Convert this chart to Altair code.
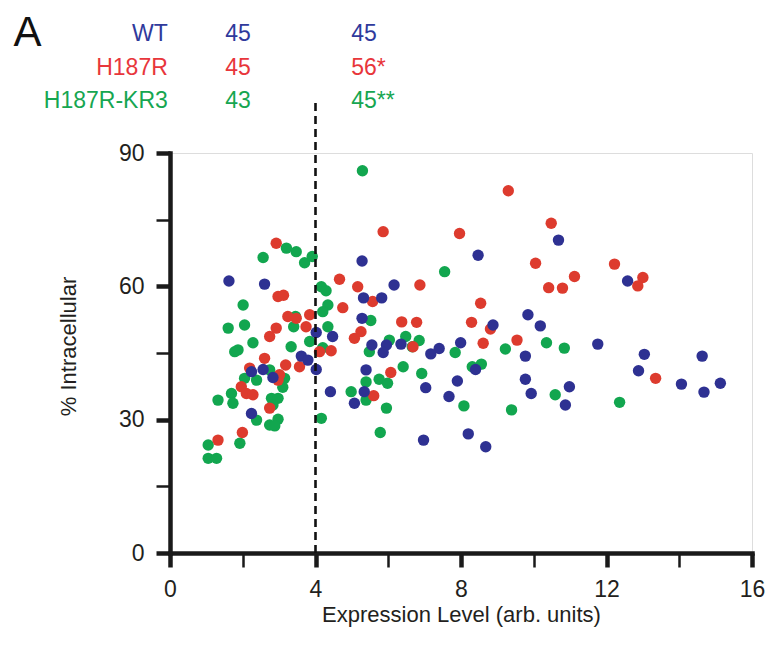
import altair as alt
import pandas as pd

# ---------------- data ----------------
groups = ["WT", "H187R", "H187R-KR3"]
left_counts = ["45", "45", "43"]
right_counts = ["45", "56*", "45**"]

wt_x = [5.28, 1.62, 2.60, 5.32, 5.28, 4.02, 4.47, 3.61, 3.79, 4.02, 2.24, 2.56, 2.83, 2.24,
        4.41, 5.34, 5.07, 5.39, 6.16, 5.82, 8.88, 9.84, 5.55, 5.95, 6.35, 7.40, 7.99, 5.86,
        7.17, 9.77, 7.90, 8.40, 9.77, 7.03, 7.67, 9.93, 6.97, 8.20, 8.68, 10.68, 12.58, 10.18,
        11.76, 13.04, 12.88, 14.63, 14.06, 14.68, 15.13, 10.98, 10.87, 8.47]
wt_y = [65.7, 61.2, 60.5, 57.4, 52.8, 49.6, 48.7, 44.3, 43.4, 41.3, 40.8, 41.3, 39.5, 31.4,
        36.3, 36.3, 33.7, 41.2, 60.3, 57.4, 51.3, 53.6, 46.8, 46.8, 47.0, 46.0, 47.3, 45.1,
        44.8, 44.3, 38.7, 41.3, 39.1, 37.2, 35.2, 35.9, 25.4, 26.8, 23.9, 70.4, 61.2, 51.1,
        47.0, 44.7, 41.0, 44.3, 38.0, 36.2, 38.2, 37.4, 33.3, 67.0]

h187r_x = [2.92, 4.66, 5.16, 2.97, 3.12, 4.75, 3.24, 3.47, 3.84, 2.92, 2.74, 3.74, 5.25, 5.07,
           4.11, 4.43, 3.56, 2.60, 3.18, 2.19, 3.01, 2.97, 1.96, 2.10, 2.28, 2.74, 1.99, 1.32,
           9.30, 5.86, 7.96, 6.87, 5.57, 6.37, 6.78, 8.54, 8.29, 8.81, 9.54, 6.68, 8.61, 6.07,
           5.60, 10.48, 10.05, 12.22, 11.12, 10.41, 10.79, 13.00, 12.86, 13.35]
h187r_y = [69.7, 61.6, 59.9, 57.7, 58.0, 55.2, 53.2, 52.8, 53.6, 50.6, 48.7, 50.9, 49.8, 48.3,
           45.3, 45.5, 41.9, 43.8, 42.3, 41.6, 40.1, 38.9, 37.4, 35.9, 35.6, 32.6, 27.1, 25.4,
           81.5, 72.3, 71.9, 60.3, 56.6, 52.0, 51.9, 56.2, 51.9, 50.4, 47.9, 46.4, 47.2, 40.6,
           35.4, 74.2, 65.2, 65.0, 62.2, 59.7, 59.6, 62.0, 60.1, 39.3]

kr3_x = [5.29, 3.20, 3.47, 3.70, 3.91, 2.56, 4.16, 4.29, 2.01, 4.34, 4.20, 3.45, 2.05, 1.60,
         3.40, 4.34, 2.28, 1.87, 1.78, 3.33, 3.84, 4.20, 2.05, 2.38, 2.74, 3.15, 3.10, 1.69,
         1.32, 1.73, 2.79, 2.97, 2.83, 2.38, 2.74, 2.97, 2.88, 4.16, 4.98, 5.39, 5.39, 1.05,
         1.92, 1.05, 1.28, 5.52, 6.03, 6.48, 6.85, 9.22, 5.48, 6.66, 7.84, 6.41, 5.75, 5.98,
         6.92, 8.31, 8.56, 5.95, 8.08, 9.39, 5.78, 10.35, 10.84, 10.59, 12.36, 7.55]
kr3_y = [86.0, 68.6, 67.8, 65.3, 66.7, 66.5, 59.9, 59.0, 55.8, 55.8, 54.3, 53.2, 51.3, 50.6,
         50.9, 50.9, 47.3, 45.7, 45.3, 46.4, 47.6, 46.2, 39.3, 38.9, 41.2, 39.3, 37.3, 35.9,
         34.4, 33.7, 34.8, 34.8, 33.3, 29.9, 28.8, 30.1, 28.6, 30.3, 36.3, 34.4, 38.5, 24.3,
         24.7, 21.3, 21.3, 52.3, 47.9, 48.7, 47.8, 45.9, 45.3, 46.4, 45.1, 41.9, 39.1, 38.2,
         40.4, 41.9, 42.5, 32.6, 33.1, 32.2, 27.1, 47.3, 46.1, 35.6, 33.9, 63.3]

threshold = 4

# ---------------- styling / layout ----------------
BLUE = "#2E3192"
RED = "#DD3B2E"
GREEN = "#12A64F"
TXT_BLUE = "#2F3A9C"
TXT_RED = "#E8363B"
TXT_GREEN = "#16A651"
FONT = "Liberation Sans"

W, H = 582, 400

rows = []
for gx, gy, g in [(kr3_x, kr3_y, "H187R-KR3"), (h187r_x, h187r_y, "H187R"), (wt_x, wt_y, "WT")]:
    for a, b in zip(gx, gy):
        rows.append({"x": a, "y": b, "group": g})
pts = pd.DataFrame(rows)
pts["order"] = range(len(pts))

x_scale = alt.Scale(domain=[0, 16], nice=False, zero=False)
y_scale = alt.Scale(domain=[0, 90], nice=False, zero=False)

major_x = "datum.value % 4 === 0"
major_y = "datum.value % 30 === 0"

x_axis = alt.Axis(
    values=list(range(0, 17, 2)),
    labelExpr=f"{major_x} ? datum.label : ''",
    tickWidth={"condition": {"test": major_x, "value": 4.5}, "value": 2.5},
    tickSize=14,
    tickColor="#1a1a1a",
    domainColor="#1a1a1a",
    domainWidth=4.5,
    domainCap="square",
    labelFont=FONT, labelFontSize=23, labelColor="#231f20",
    labelPadding=11, labelFlush=False, labelOverlap=False,
    title="Expression Level (arb. units)",
    titleFont=FONT, titleFontSize=22, titleFontWeight="normal", titleColor="#231f20",
    titleBaseline="alphabetic", titleY=68, titleX=W / 2,
    grid=False,
)
y_axis = alt.Axis(
    values=list(range(0, 91, 15)),
    labelExpr=f"{major_y} ? datum.label : ''",
    tickWidth={"condition": {"test": major_y, "value": 4.5}, "value": 2.5},
    tickSize=14,
    tickColor="#1a1a1a",
    domainColor="#1a1a1a",
    domainWidth=4.5,
    domainCap="square",
    labelFont=FONT, labelFontSize=23, labelColor="#231f20",
    labelPadding=12, labelOverlap=False,
    title="% Intracellular",
    titleFont=FONT, titleFontSize=22, titleFontWeight="normal", titleColor="#231f20",
    titleAngle=270, titleAlign="center", titleBaseline="middle",
    titleX=-102, titleY=193,
    grid=False,
)

scatter = alt.Chart(pts).mark_circle(size=130, opacity=1).encode(
    x=alt.X("x:Q", scale=x_scale, axis=x_axis),
    y=alt.Y("y:Q", scale=y_scale, axis=y_axis),
    color=alt.Color("group:N", scale=alt.Scale(domain=groups, range=[BLUE, RED, GREEN]), legend=None),
    order=alt.Order("order:Q"),
)

rule_df = pd.DataFrame({"x": [threshold], "y": [0], "y2": [102]})
rule = alt.Chart(rule_df).mark_rule(color="#111111", strokeWidth=2.6, strokeDash=[8, 5]).encode(
    x=alt.X("x:Q", scale=x_scale), y=alt.Y("y:Q", scale=y_scale), y2="y2:Q"
)

# annotation positions (data units of the scales)
row_y = [115.2, 107.6, 100.2]
txt_colors = [TXT_BLUE, TXT_RED, TXT_GREEN]
name_df = pd.DataFrame({"t": groups, "x": [-0.06] * 3, "y": row_y, "c": txt_colors})
cnt_df = pd.DataFrame({
    "t": left_counts + right_counts,
    "x": [1.52] * 3 + [4.98] * 3,
    "y": row_y + row_y,
    "c": txt_colors + txt_colors,
})
panel_df = pd.DataFrame({"t": ["A"], "x": [-4.3], "y": [114.0]})

names = alt.Chart(name_df).mark_text(align="right", baseline="alphabetic", font=FONT, fontSize=23).encode(
    x=alt.X("x:Q", scale=x_scale), y=alt.Y("y:Q", scale=y_scale), text="t:N",
    color=alt.Color("c:N", scale=None),
)
counts = alt.Chart(cnt_df).mark_text(align="left", baseline="alphabetic", font=FONT, fontSize=23).encode(
    x=alt.X("x:Q", scale=x_scale), y=alt.Y("y:Q", scale=y_scale), text="t:N",
    color=alt.Color("c:N", scale=None),
)
panel = alt.Chart(panel_df).mark_text(align="left", baseline="alphabetic", font=FONT, fontSize=42,
                                      color="#111111").encode(
    x=alt.X("x:Q", scale=x_scale), y=alt.Y("y:Q", scale=y_scale), text="t:N",
)

chart = alt.layer(scatter, rule, names, counts, panel).resolve_scale(color="independent").properties(
    width=W, height=H,
    autosize=alt.AutoSizeParams(type="none"),
    padding={"left": 162, "top": 145, "right": 13, "bottom": 84},
).configure_view(stroke=None).configure(background="white")

chart.save("out.html", embed_options={"renderer": "svg", "actions": False})
